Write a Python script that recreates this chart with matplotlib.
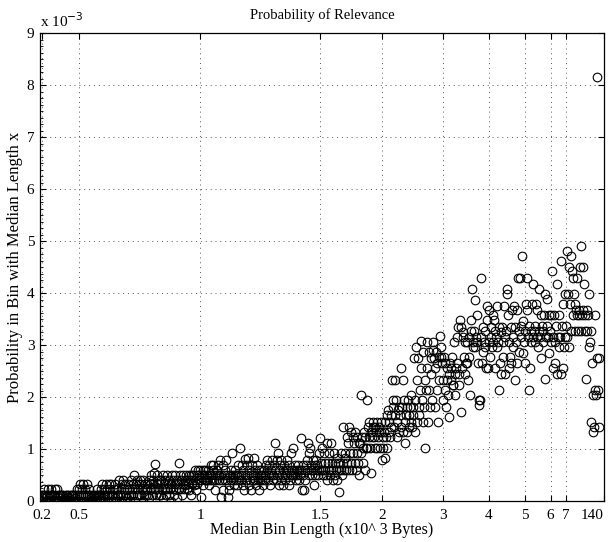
import matplotlib
matplotlib.use("Agg")
import matplotlib.pyplot as plt
import numpy as np
from matplotlib.ticker import FixedLocator, MultipleLocator, FuncFormatter

plt.rcParams['font.family'] = ['Liberation Serif', 'DejaVu Serif']

# probability per bin, in units of 1e-3, bins in order of median length
# (ten values per row, six rows per chunk)
seg0 = [0, 0.12, 0, 0.06, 0.12, 0, 0.23, 0, 0.12, 0,
        0.12, 0, 0.23, 0.06, 0, 0.12, 0, 0.23, 0.12, 0,
        0, 0.12, 0.23, 0, 0.06, 0.12, 0.23, 0, 0.12, 0,
        0.12, 0, 0.06, 0.12, 0, 0.12, 0, 0.06, 0, 0.12,
        0, 0.12, 0, 0.12, 0.06, 0, 0.12, 0, 0.12, 0,
        0.12, 0, 0.06, 0.12, 0, 0.12, 0.23, 0, 0.23, 0.12]
seg1 = [0.33, 0.12, 0, 0.23, 0.12, 0.33, 0, 0.12, 0.23, 0,
        0.12, 0.33, 0, 0.23, 0.12, 0, 0.06, 0.12, 0, 0.12,
        0, 0.12, 0.06, 0, 0.12, 0.23, 0, 0.12, 0, 0.12,
        0.12, 0.23, 0, 0.33, 0.12, 0.06, 0.23, 0, 0.12, 0.33,
        0.23, 0.12, 0, 0.33, 0.12, 0.23, 0, 0.33, 0.12, 0,
        0.12, 0.23, 0.06, 0.33, 0, 0.12, 0.23, 0.12, 0, 0.41]
seg2 = [0.12, 0.23, 0, 0.33, 0.41, 0.12, 0.23, 0, 0.33, 0.12,
        0.23, 0.06, 0.33, 0.12, 0.23, 0, 0.41, 0.12, 0.23, 0.33,
        0.12, 0.5, 0.23, 0, 0.33, 0.12, 0.41, 0.23, 0.12, 0.33,
        0.41, 0.12, 0.33, 0.23, 0.41, 0, 0.12, 0.33, 0.23, 0.12,
        0.33, 0.23, 0.12, 0.41, 0.06, 0.33, 0.23, 0.5, 0.12, 0.33,
        0.41, 0.54, 0.23, 0.71, 0.12, 0.33, 0.5, 0.23, 0.41, 0.12]
seg3 = [0.33, 0.12, 0.41, 0.23, 0.5, 0.06, 0.33, 0.23, 0.41, 0.12,
        0.23, 0.5, 0.33, 0.12, 0.41, 0.23, 0, 0.33, 0.5, 0.23,
        0.41, 0.12, 0.33, 0.5, 0.23, 0.06, 0.41, 0.33, 0.23, 0.73,
        0.5, 0.23, 0.41, 0.12, 0.33, 0.5, 0.23, 0.41, 0.3, 0.5,
        0.23, 0.41, 0.33, 0.5, 0.21, 0.41, 0.12, 0.5, 0.33, 0.41,
        0.5, 0.3, 0.6, 0.41, 0.21, 0.5, 0.33, 0.6, 0.41, 0.5]
seg4 = [0.6, 0.08, 0.4, 0.5, 0.6, 0.3, 0.5, 0.4, 0.6, 0.4,
        0.5, 0.4, 0.6, 0.3, 0.5, 0.4, 0.69, 0.5, 0.4, 0.6,
        0.69, 0.4, 0.5, 0.21, 0.4, 0.6, 0.5, 0.69, 0.4, 0.5,
        0.79, 0.08, 0.5, 0.4, 0.21, 0.69, 0.5, 0.4, 0.6, 0.79,
        0.4, 0.5, 0.08, 0.3, 0.21, 0.5, 0.6, 0.4, 0.92, 0.5,
        0.4, 0.3, 0.6, 0.5, 0.4, 0.3, 0.5, 0.69, 0.4, 0.5]
seg5 = [1.02, 0.5, 0.4, 0.69, 0.3, 0.6, 0.21, 0.5, 0.8, 0.4,
        0.69, 0.5, 0.82, 0.3, 0.6, 0.4, 0.21, 0.5, 0.69, 0.4,
        0.5, 0.82, 0.4, 0.6, 0.3, 0.5, 0.69, 0.4, 0.21, 0.6,
        0.4, 0.5, 0.6, 0.4, 0.5, 0.3, 0.6, 0.5, 0.4, 0.69,
        0.6, 0.79, 0.4, 0.5, 0.69, 0.3, 0.6, 0.5, 0.79, 0.4,
        0.5, 0.69, 1.12, 0.6, 0.4, 0.79, 0.5, 0.92, 0.6, 0.3]
seg6 = [0.69, 0.4, 0.79, 0.5, 0.6, 0.3, 0.69, 0.5, 0.4, 0.6,
        0.79, 0.5, 0.6, 0.3, 0.69, 0.4, 0.5, 0.92, 0.6, 0.5,
        1.02, 0.6, 0.5, 0.69, 0.4, 0.6, 0.5, 0.69, 0.6, 0.4,
        0.5, 1.22, 0.6, 0.21, 0.69, 0.5, 0.21, 0.6, 0.4, 0.69,
        0.79, 0.6, 1.12, 0.5, 0.92, 1.02, 0.69, 0.6, 0.5, 0.79,
        0.6, 0.3, 0.69, 0.5, 0.79, 0.6, 0.69, 0.5, 0.92, 0.6]
seg7 = [1.22, 0.6, 0.73, 1.02, 0.5, 0.6, 0.92, 0.73, 0.6, 0.5,
        1.11, 0.4, 0.73, 0.6, 0.92, 0.5, 1.11, 0.6, 0.73, 0.4,
        0.6, 0.92, 0.73, 0.5, 0.6, 0.4, 0.82, 0.73, 0.6, 0.18,
        0.73, 0.6, 0.92, 0.5, 1.43, 0.73, 0.6, 0.92, 0.82, 0.6,
        1.24, 0.73, 1.11, 0.6, 1.43, 0.92, 1.33, 0.73, 0.6, 1.24,
        0.92, 1.11, 0.73, 1.33, 0.6, 1.24, 0.92, 0.73, 0.5, 1.11]
seg8 = [1.11, 0.92, 2.04, 1.24, 0.73, 1.02, 1.33, 0.6, 1.24, 1.02,
        1.94, 1.02, 1.43, 1.24, 1.52, 1.02, 1.33, 0.54, 1.24, 1.43,
        1.52, 1.24, 1.02, 1.43, 1.33, 1.52, 1.02, 1.24, 1.43, 1.33,
        1.02, 1.33, 1.52, 0.79, 1.24, 1.02, 1.33, 0.82, 1.52, 1.24,
        1.65, 1.02, 1.75, 1.33, 1.52, 1.24, 1.65, 1.43, 2.33, 1.94,
        1.81, 1.43, 1.65, 2.33, 1.94, 1.52, 1.24, 1.75, 1.33, 1.81]
seg9 = [1.65, 2.55, 1.43, 1.81, 1.33, 2.33, 1.94, 1.52, 1.11, 1.65,
        1.81, 1.33, 1.94, 1.43, 1.65, 1.81, 2.04, 1.52, 1.43, 1.65,
        1.81, 2.75, 1.33, 1.94, 2.97, 1.52, 2.33, 2.75, 1.81, 1.65,
        2.13, 2.55, 3.07, 1.94, 2.87, 1.52, 1.81, 2.33, 1.02, 2.13,
        2.55, 3.06, 1.52, 2.87, 2.13, 1.81, 2.75, 2.45, 1.94, 3.06,
        2.9, 2.75, 2.55, 1.81, 2.87, 2.13, 2.65, 1.52, 2.33, 2.77]
seg10 = [3.17, 2.77, 2.97, 2.65, 2.33, 1.94, 2.77, 2.13, 2.65, 1.81,
         2.55, 2.33, 2.04, 1.62, 2.45, 2.65, 2.33, 2.55, 2.77, 2.23,
         2.23, 3.06, 2.45, 2.04, 2.55, 3.15, 2.65, 3.35, 2.45, 2.23,
         3.48, 3.35, 1.71, 2.55, 3.25, 3.15, 2.77, 3.06, 2.45, 2.65,
         2.65, 3.06, 2.33, 2.77, 3.15, 2.04, 3.48, 3.27, 4.07, 2.97,
         3.06, 3.27, 3.87, 2.97, 3.15, 3.58, 3.06, 2.65, 1.94, 1.85]
seg11 = [1.94, 3.15, 4.28, 2.65, 3.35, 2.87, 3.06, 2.97, 3.27, 2.55,
         3.75, 3.48, 2.55, 3.06, 3.67, 2.77, 3.15, 3.35, 2.97, 3.58,
         3.06, 3.48, 2.55, 3.27, 3.15, 3.75, 2.97, 3.06, 3.35, 2.13,
         2.65, 3.25, 2.45, 3.35, 2.77, 3.06, 3.75, 3.15, 2.45, 3.27,
         4.07, 3.98, 3.58, 2.55, 3.06, 2.77, 3.35, 2.65, 3.67, 2.97,
         3.15, 3.75, 2.33, 3.35, 3.06, 2.65, 3.67, 4.28, 2.87, 3.27]
seg12 = [4.28, 3.37, 3.16, 4.72, 2.85, 3.47, 3.06, 2.65, 3.27, 3.78,
         4.28, 3.68, 3.16, 2.13, 3.37, 2.55, 3.06, 3.27, 3.78, 3.16,
         4.18, 3.27, 3.06, 3.37, 3.78, 3.16, 3.68, 2.97, 4.07, 3.27,
         3.16, 3.58, 2.75, 3.37, 3.06, 3.27, 3.58, 2.35, 3.98, 3.16,
         3.88, 3.37, 3.16, 3.58, 2.85, 3.27, 3.06, 3.58, 4.42, 3.16,
         2.55, 3.58, 3.06, 2.65, 3.37, 4.18, 2.45, 3.16, 2.97, 3.58]
seg13 = [3.16, 4.62, 2.44, 3.37, 2.55, 3.78, 2.97, 3.16, 3.98, 3.37,
         4.8, 3.16, 3.98, 4.5, 2.97, 3.78, 4.72, 3.27, 4.42, 3.58,
         4.28, 3.98, 3.78, 3.27, 3.68, 3.58, 4.28, 3.27, 3.68, 3.58,
         4.5, 3.27, 4.9, 3.58, 4.5, 3.68, 4.18, 3.27, 3.58, 2.35,
         3.68, 3.27, 3.58, 3.98, 2.97, 3.06, 1.52, 3.27, 2.65, 1.33,
         2.04, 1.43, 3.58, 2.13, 2.04, 2.75, 8.15, 2.13, 1.43, 2.75]

n_bins = 846
tick_bins = [3, 58, 240, 420, 513, 604, 673, 727, 766, 789, 846]
tick_labels = ['0.2', '0.5', '1', '1.5', '2', '3', '4', '5', '6', '7', '140']

prob = np.array(seg0 + seg1 + seg2 + seg3 + seg4 + seg5 + seg6 + seg7
                + seg8 + seg9 + seg10 + seg11 + seg12 + seg13) * 1e-3
bins = np.arange(len(prob))

fig = plt.figure(figsize=(6.08, 5.42), dpi=100)
ax = fig.add_axes([40/608, 41/542, 564/608, 468/542])

ax.plot(bins, prob, 'o', mfc='none', mec='black', ms=6.2, mew=0.8)

ax.set_xlim(0, n_bins)
ax.set_ylim(0, 9e-3)
ax.xaxis.set_major_locator(FixedLocator(tick_bins))
ax.set_xticklabels(tick_labels)
ax.yaxis.set_major_locator(MultipleLocator(1e-3))
ax.yaxis.set_minor_locator(MultipleLocator(0.125e-3))
ax.yaxis.set_major_formatter(FuncFormatter(lambda v, p: '%g' % round(v * 1e3, 3)))

ax.grid(True, which='major', linestyle=(0, (1, 4)), color='#555555', linewidth=0.7)
ax.tick_params(which='major', direction='in', length=4, top=True, right=True,
               width=0.8)
ax.tick_params(axis='x', labelsize=11, pad=6)
ax.tick_params(axis='y', labelsize=11, pad=4)
ax.tick_params(axis='y', which='minor', direction='in', length=2, width=0.6)
# last label sits flush with the right edge
ax.get_xticklabels()[-1].set_horizontalalignment('right')
for s in ax.spines.values():
    s.set_linewidth(0.9)

ax.set_title('Probability of Relevance', fontsize=10.5, pad=10)
ax.set_xlabel('Median Bin Length (x10^ 3 Bytes)', fontsize=11.5, labelpad=0)
ax.set_ylabel('Probability in Bin with Median Length x', fontsize=12, labelpad=3)
ax.text(0.0, 1.006, 'x 10$^{-3}$', transform=ax.transAxes, fontsize=11,
        ha='left', va='bottom')

plt.savefig('out.png')
